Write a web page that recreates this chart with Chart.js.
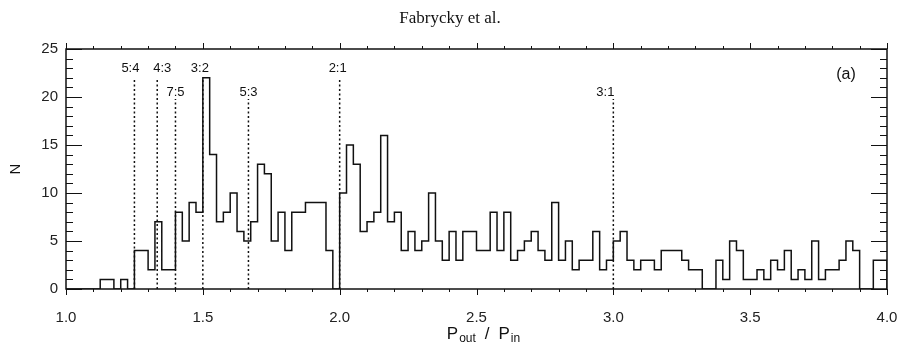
<!DOCTYPE html>
<html>
<head>
<meta charset="utf-8">
<script src="https://cdn.jsdelivr.net/npm/chart.js@4.4.0/dist/chart.umd.min.js"></script>
<style>
  html, body { margin: 0; padding: 0; background: #fff; }
</style>
</head>
<body>
<canvas id="histChart" width="900" height="347"></canvas>
<script>
// Histogramm der Periodenverhaeltnisse, Bins zu 0.025 von 1.0 bis 4.0
const binStart = 1.0;
const binWidth = 0.025;
const counts = [
  0, 0, 0, 0, 0, 1, 1, 0, 1, 0,
  4, 4, 2, 7, 2, 2, 8, 5, 9, 8,
  22, 14, 7, 8, 10, 6, 5, 7, 13, 12,
  5, 8, 4, 8, 8, 9, 9, 9, 4, 0,
  10, 15, 13, 6, 7, 8, 16, 7, 8, 4,
  6, 4, 5, 10, 5, 3, 6, 3, 6, 6,
  4, 4, 8, 4, 8, 3, 4, 5, 6, 4,
  3, 9, 3, 5, 2, 3, 3, 6, 2, 3,
  5, 6, 3, 2, 3, 3, 2, 4, 4, 4,
  3, 2, 2, 0, 0, 3, 1, 5, 4, 1,
  1, 2, 1, 3, 2, 4, 1, 2, 1, 5,
  1, 2, 2, 3, 5, 4, 0, 0, 3, 3
];

// Resonanzen (gepunktete Linien)
const resonanceNames = ['5:4', '4:3', '7:5', '3:2', '5:3', '2:1', '3:1'];
const resonanceRatios = [5 / 4, 4 / 3, 7 / 5, 3 / 2, 5 / 3, 2, 3];
const resonanceRow = [0, 0, 1, 0, 1, 0, 1];

// Achsenbeschriftung
const xTickValues = [1.0, 1.5, 2.0, 2.5, 3.0, 3.5, 4.0];
const yTickValues = [0, 5, 10, 15, 20, 25];
const xRange = [1.0, 4.0];
const yRange = [0, 25];

const ink = '#111';
const labelFont = '"Liberation Sans", Arial, sans-serif';
// kleine Verschiebung der Resonanz-Texte in Pixeln (wie im Original)
const labelNudge = [-4, 5, 0, -3, 0, -2, -8];

// Stufenpunkte: linke Binkante + Endpunkt bei 4.0
const histPoints = counts.map((c, i) => ({ x: binStart + i * binWidth, y: c }));
histPoints.push({ x: binStart + counts.length * binWidth, y: counts[counts.length - 1] });
histPoints.push({ x: binStart + counts.length * binWidth, y: 0 });

const resonanceSets = resonanceRatios.map((r, i) => ({
  data: [{ x: r, y: 0 }, { x: r, y: resonanceRow[i] ? 19.8 : 21.8 }],
  borderColor: ink,
  borderWidth: 1.5,
  borderDash: [2, 2.5],
  pointRadius: 0,
  fill: false
}));

const framePlugin = {
  id: 'frame',
  afterDatasetsDraw(chart) {
    const { ctx, chartArea: a, scales: { x, y } } = chart;
    ctx.save();
    ctx.strokeStyle = ink;
    ctx.lineWidth = 1.5;
    ctx.strokeRect(a.left, a.top, a.right - a.left, a.bottom - a.top);

    // Teilstriche: x nach aussen, y nach innen
    ctx.lineWidth = 1;
    ctx.beginPath();
    for (let i = 0; i <= 30; i++) {
      const px = Math.round(x.getPixelForValue(xRange[0] + i * 0.1)) + 0.5;
      const len = i % 5 === 0 ? 6 : 3;
      ctx.moveTo(px, a.bottom); ctx.lineTo(px, a.bottom + len);
      ctx.moveTo(px, a.top); ctx.lineTo(px, a.top - len);
    }
    for (let v = yRange[0]; v <= yRange[1]; v++) {
      const py = Math.round(y.getPixelForValue(v)) + 0.5;
      const len = v % 5 === 0 ? 16 : 7;
      ctx.moveTo(a.left, py); ctx.lineTo(a.left + len, py);
      ctx.moveTo(a.right, py); ctx.lineTo(a.right - len, py);
    }
    ctx.stroke();

    // Resonanz-Beschriftungen
    ctx.fillStyle = ink;
    ctx.font = '13px ' + labelFont;
    ctx.textAlign = 'center';
    ctx.textBaseline = 'middle';
    resonanceNames.forEach((name, i) => {
      const py = y.getPixelForValue(resonanceRow[i] ? 20.5 : 23);
      ctx.fillText(name, x.getPixelForValue(resonanceRatios[i]) + labelNudge[i], py);
    });

    // Panel-Markierung
    ctx.font = '16px ' + labelFont;
    ctx.fillText('(a)', a.right - 41, a.top + 26);

    // Titel oben
    ctx.font = '17px "Liberation Serif", "DejaVu Serif", serif';
    ctx.textBaseline = 'alphabetic';
    ctx.fillText('Fabrycky et al.', chart.width / 2, 23);

    // y-Achsentitel
    ctx.save();
    ctx.translate(16, (a.top + a.bottom) / 2);
    ctx.rotate(-Math.PI / 2);
    ctx.font = '15px ' + labelFont;
    ctx.textBaseline = 'middle';
    ctx.fillText('N', 0, 0);
    ctx.restore();

    // x-Achsentitel mit Indizes: [Text, Schriftgroesse, Absenkung, Abstand danach]
    const parts = [
      ['P', 17, 0, 1], ['out', 12, 3, 9], ['/', 17, 0, 9], ['P', 17, 0, 1], ['in', 12, 3, 0]
    ];
    let total = 0;
    parts.forEach(p => { ctx.font = p[1] + 'px ' + labelFont; total += ctx.measureText(p[0]).width + p[3]; });
    let cx = (a.left + a.right) / 2 + 7 - total / 2;
    ctx.textAlign = 'left';
    parts.forEach(p => {
      ctx.font = p[1] + 'px ' + labelFont;
      ctx.fillText(p[0], cx, 339 + p[2]);
      cx += ctx.measureText(p[0]).width + p[3];
    });
    ctx.restore();
  }
};

new Chart(document.getElementById('histChart'), {
  type: 'line',
  data: {
    datasets: [{
      data: histPoints,
      stepped: true,
      borderColor: ink,
      borderWidth: 1.5,
      pointRadius: 0,
      fill: false
    }].concat(resonanceSets)
  },
  options: {
    responsive: false,
    animation: false,
    layout: { padding: { top: 49, right: 13, bottom: 0, left: 0 } },
    plugins: { legend: { display: false }, tooltip: { enabled: false } },
    scales: {
      x: {
        type: 'linear',
        min: xRange[0],
        max: xRange[1],
        afterBuildTicks: s => { s.ticks = xTickValues.map(v => ({ value: v })); },
        afterFit: s => { s.height = 58; s.paddingLeft = 0; s.paddingRight = 0; },
        grid: { display: false, drawTicks: false },
        border: { display: false },
        ticks: {
          padding: 20,
          maxRotation: 0,
          autoSkip: false,
          color: '#222',
          font: { family: labelFont, size: 15 },
          callback: v => v.toFixed(1)
        }
      },
      y: {
        type: 'linear',
        min: yRange[0],
        max: yRange[1],
        afterBuildTicks: s => { s.ticks = yTickValues.map(v => ({ value: v })); },
        afterFit: s => { s.width = 66; s.paddingTop = 0; s.paddingBottom = 0; },
        grid: { display: false, drawTicks: false },
        border: { display: false },
        ticks: {
          padding: 8,
          color: '#222',
          font: { family: labelFont, size: 15 },
          callback: v => String(v)
        }
      }
    }
  },
  plugins: [framePlugin]
});
</script>
</body>
</html>
